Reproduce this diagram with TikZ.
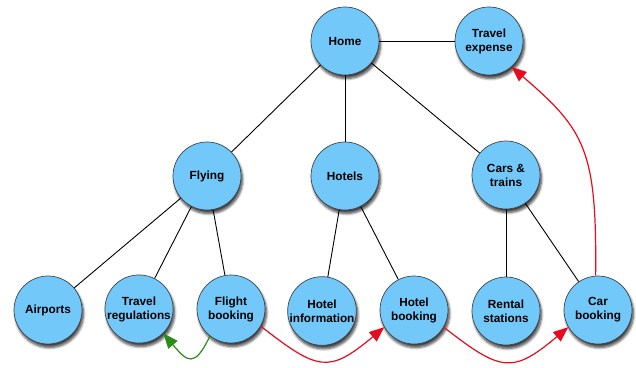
\documentclass[tikz,border=0pt]{standalone}
\usepackage{fontspec}
\setmainfont{Liberation Sans}
\usetikzlibrary{arrows.meta,shadows.blur}
\definecolor{bubble}{RGB}{115,200,250}
\definecolor{rim}{RGB}{60,70,80}
\definecolor{linkred}{RGB}{232,10,30}
\definecolor{linkgreen}{RGB}{45,140,25}
\begin{document}
\begin{tikzpicture}[x=1pt,y=-1pt,
  page/.style={circle,minimum size=68pt,inner sep=0pt,fill=bubble,draw=rim,line width=0.7pt,
    align=center,font=\fontsize{11.8}{14}\selectfont\bfseries,
    blur shadow={shadow xshift=1.5pt,shadow yshift=-3.5pt,shadow blur steps=6,shadow blur radius=2.5pt,shadow opacity=75}},
  tree/.style={line width=0.9pt,black},
  jump/.style={line width=1.2pt,-{Triangle[length=15pt,width=12pt]}}]
\useasboundingbox (0,0) rectangle (636,367);
% pages
\node[page] (home)  at (345,41)  {Home};
\node[page] (exp)   at (489,41)  {Travel\\expense};
\node[page] (fly)   at (207,176) {Flying};
\node[page] (hot)   at (345,176) {Hotels};
\node[page] (cars)  at (506,175) {Cars \&\\trains};
\node[page] (air)   at (48,310)  {Airports};
\node[page] (treg)  at (139,309) {Travel\\regulations};
\node[page] (fbook) at (231,309) {Flight\\booking};
\node[page] (hinfo) at (322,311) {Hotel\\information};
\node[page] (hbook) at (414,310) {Hotel\\booking};
\node[page] (rent)  at (506,311) {Rental\\stations};
\node[page] (cbook) at (598,310) {Car\\booking};
% site hierarchy
\draw[tree] (home) -- (exp);
\draw[tree] (home) -- (fly);
\draw[tree] (home) -- (hot);
\draw[tree] (home) -- (cars);
\draw[tree] (fly) -- (air);
\draw[tree] (fly) -- (treg);
\draw[tree] (fly) -- (fbook);
\draw[tree] (hot) -- (hinfo);
\draw[tree] (hot) -- (hbook);
\draw[tree] (cars) -- (rent);
\draw[tree] (cars) -- (cbook);
% navigation links
\draw[jump,linkgreen] (fbook.-128) to[out=-115,in=-50,looseness=2] (treg.-45);
\draw[jump,linkred] (fbook.-30) to[out=-38,in=-140,looseness=1.5] (hbook.210);
\draw[jump,linkred] (hbook.-30) to[out=-38,in=-140,looseness=1.5] (cbook.210);
\draw[jump,linkred] (cbook.94) .. controls (597,150) and (585,130) .. (exp.-49);
\end{tikzpicture}
\end{document}
